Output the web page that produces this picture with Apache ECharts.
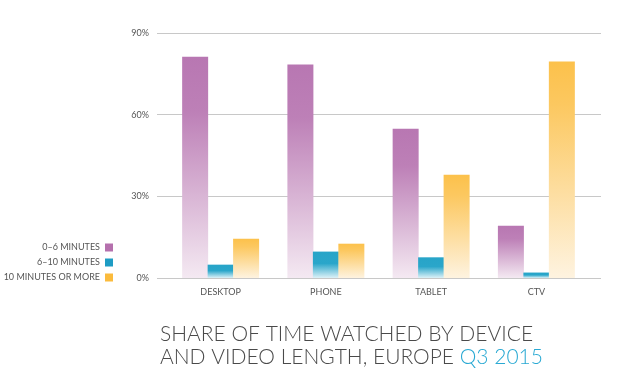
<!DOCTYPE html>
<html>
<head>
<meta charset="utf-8">
<script src="https://cdn.jsdelivr.net/npm/echarts@6/dist/echarts.min.js"></script>
<style>
html,body{margin:0;padding:0;background:#fff;}
#c{width:617px;height:382px;}
</style>
</head>
<body>
<div id="c"></div>
<script>
var categories = ['DESKTOP', 'PHONE', 'TABLET', 'CTV'];
var seriesNames = ['0–6 MINUTES', '6–10 MINUTES', '10 MINUTES OR MORE'];
var short = [81.3, 78.4, 54.8, 19.2];
var mid = [4.9, 9.7, 7.6, 2.0];
var long = [14.4, 12.6, 37.9, 79.5];
var yTicks = [0, 30, 60, 90];

function grad(c0, c1, c2, s) {
  return new echarts.graphic.LinearGradient(0, 0, 0, 1, [
    {offset: 0, color: c0}, {offset: s, color: c1}, {offset: 1, color: c2}
  ]);
}
var colors = [
  grad('#b877b2', '#bd80b7', '#f4e9f2', 0.25),
  grad('#27a4c8', '#2aa6ca', '#ddf1f7', 0.45),
  grad('#fcc14b', '#fcc860', '#fef3e0', 0.2)
];
var solid = ['#b570ad', '#1e9cc4', '#fbbb3c'];
var font = 'Lato, "Open Sans", sans-serif';

var chart = echarts.init(document.getElementById('c'), null, {renderer: 'canvas'});
var seriesData = [short, mid, long];
var series = seriesData.map(function (d, i) {
  return {
    name: seriesNames[i], type: 'bar', xAxisIndex: 1, yAxisIndex: 1,
    data: d, barWidth: 26, barGap: '-2%',
    itemStyle: {color: colors[i]},
    emphasis: {disabled: true}
  };
});

chart.setOption({
  animation: false,
  color: solid,
  title: {
    left: 155, top: 318,
    text: '{a|SHARE OF TIME WATCHED BY DEVICE}\n{a|AND VIDEO LENGTH, EUROPE }{b|Q3 2015}',
    textStyle: {
      rich: {
        a: {fontFamily: font, fontWeight: 300, fontSize: 21, color: '#4a4a4a', lineHeight: 23},
        b: {fontFamily: font, fontWeight: 300, fontSize: 21, color: '#29a9d3', lineHeight: 23}
      }
    }
  },
  legend: {
    orient: 'vertical', align: 'right', right: 499, top: 238,
    itemWidth: 8, itemHeight: 8, itemGap: 6,
    icon: 'rect',
    data: seriesNames.map(function (n, i) { return {name: n, itemStyle: {color: solid[i]}}; }),
    textStyle: {fontFamily: font, fontSize: 9, color: '#555', padding: [0, 0, 0, 0]},
    selectedMode: false
  },
  grid: [
    {left: 157, right: 16, top: 33, bottom: 104},
    {left: 168, right: 28, top: 33, bottom: 104}
  ],
  xAxis: [
    {gridIndex: 0, type: 'value', show: false, min: 0, max: 1},
    {gridIndex: 1, type: 'category', data: categories,
     axisLine: {show: false}, axisTick: {show: false},
     axisLabel: {fontFamily: font, fontSize: 9, color: '#555', margin: 10}}
  ],
  yAxis: [
    {gridIndex: 0, type: 'value', min: 0, max: 90, interval: 30,
     axisLine: {show: false}, axisTick: {show: false},
     axisLabel: {fontFamily: font, fontSize: 9, color: '#555', margin: 8,
       formatter: function (v) { return yTicks.indexOf(v) >= 0 ? v + '%' : ''; }},
     splitLine: {lineStyle: {color: '#c8c8c8', width: 1}}},
    {gridIndex: 1, type: 'value', min: 0, max: 90, show: false}
  ],
  series: series
});
</script>
</body>
</html>
